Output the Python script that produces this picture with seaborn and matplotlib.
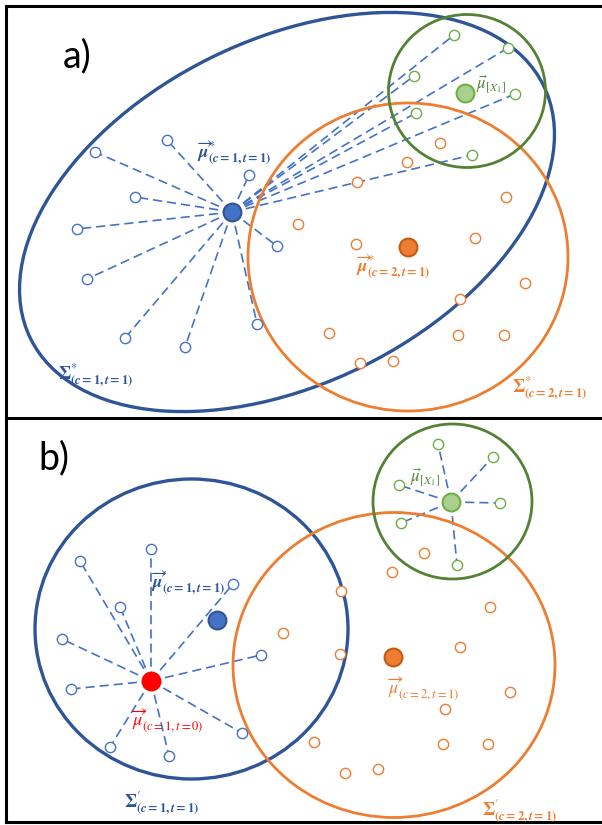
import numpy as np
import pandas as pd
import matplotlib
matplotlib.use("Agg")
import matplotlib.pyplot as plt
from matplotlib.patches import Ellipse
import seaborn as sns

sns.set_theme(style="white")
plt.rcParams["font.family"] = ["Lato", "DejaVu Sans"]
plt.rcParams["mathtext.fontset"] = "stix"

# Colours
C_BLUE_DARK = "#2F5597"
C_BLUE = "#4472C4"
C_ORANGE = "#ED7D31"
C_ORANGE_DARK = "#C55A11"
C_GREEN_DARK = "#548235"
C_GREEN = "#70AD47"
C_GREEN_FILL = "#A9D18E"
C_RED = "#FF0000"

# ---------- panel a) ----------
a_blue_x = [167, 95, 135, 249, 77, 277, 87, 257, 125, 185]
a_blue_y = [140, 152, 197, 175, 229, 246, 279, 324, 338, 347]
a_green_x = [454, 508, 414, 515, 416, 472]
a_green_y = [35, 48, 76, 94, 113, 155]
a_orange_x = [440, 407, 357, 506, 298, 356, 475, 525, 460, 329, 458, 504, 360, 393]
a_orange_y = [143, 162, 182, 197, 224, 244, 238, 283, 299, 333, 335, 335, 363, 361]
a_mu_blue = (232, 212)
a_mu_orange = (408, 247)
a_mu_green = (465, 93)

# ---------- panel b) ----------
b_blue_x = [151, 80, 120, 233, 62, 261, 71, 242, 110, 169]
b_blue_y = [549, 561, 607, 584, 639, 655, 689, 733, 747, 756]
b_green_x = [438, 493, 399, 500, 401, 457]
b_green_y = [444, 457, 485, 503, 523, 565]
b_orange_x = [424, 392, 341, 490, 283, 460, 340, 510, 445, 314, 443, 488, 345, 378]
b_orange_y = [553, 572, 591, 607, 633, 647, 654, 692, 709, 742, 744, 744, 773, 769]
b_mu_red = (151, 681)
b_mu_blue = (217, 620)
b_mu_orange = (393, 657)
b_mu_green = (451, 502)

fig = plt.figure(figsize=(6.02, 8.25), dpi=100)
ax = fig.add_axes([0, 0, 1, 1])
ax.set_xlim(0, 602)
ax.set_ylim(825, 0)
ax.axis("off")

# panel frames (open on the right-hand side)
frame_kw = dict(color="black", lw=2.2, solid_capstyle="projecting", zorder=1)
ax.plot([6, 602], [6, 6], **frame_kw)
ax.plot([6, 602], [418, 418], **frame_kw)
ax.plot([6, 602], [822, 822], **frame_kw)
ax.plot([6, 6], [6, 822], **frame_kw)


def spokes(center, xs, ys):
    for x, y in zip(xs, ys):
        ax.plot([center[0], x], [center[1], y], ls=(0, (5.5, 3)), lw=1.2,
                color=C_BLUE, zorder=2)


def hollow(xs, ys, color):
    df = pd.DataFrame({"x": xs, "y": ys})
    sns.scatterplot(data=df, x="x", y="y", ax=ax, s=55, facecolor="white",
                    edgecolor=color, linewidth=1.0, zorder=4, legend=False)


def filled(pt, face, edge):
    df = pd.DataFrame({"x": [pt[0]], "y": [pt[1]]})
    sns.scatterplot(data=df, x="x", y="y", ax=ax, s=165, color=face,
                    edgecolor=edge, linewidth=1.5, zorder=5, legend=False)


SUB1 = r"\mathbf{(}\boldsymbol{c}\mathbf{=1,}\boldsymbol{t}\mathbf{=1)}"
SUB2 = r"\mathbf{(}\boldsymbol{c}\mathbf{=2,}\boldsymbol{t}\mathbf{=1)}"

# ---- a) ----
ax.add_patch(Ellipse((287, 212), 2 * 286, 2 * 172, angle=-26.3, fill=False,
                     ec=C_BLUE_DARK, lw=2.4, zorder=3))
ax.add_patch(Ellipse((408, 257), 320, 308, fill=False, ec=C_ORANGE, lw=2.0, zorder=3))
ax.add_patch(Ellipse((467, 91), 157, 153, fill=False, ec=C_GREEN_DARK, lw=2.0, zorder=3))

spokes(a_mu_blue, a_blue_x, a_blue_y)
spokes(a_mu_blue, a_green_x, a_green_y)
hollow(a_blue_x, a_blue_y, C_BLUE)
hollow(a_green_x, a_green_y, C_GREEN)
hollow(a_orange_x, a_orange_y, C_ORANGE)
filled(a_mu_blue, C_BLUE, C_BLUE_DARK)
filled(a_mu_orange, C_ORANGE, C_ORANGE_DARK)
filled(a_mu_green, C_GREEN_FILL, C_GREEN)

ax.text(63, 56, "a)", fontsize=27, va="center", ha="left", color="black")
ax.text(197, 152, r"$\overrightarrow{\boldsymbol{\mu}}^{*}_{" + SUB1 + "}$",
        fontsize=13, color=C_BLUE_DARK, va="center", ha="left", zorder=6)
ax.text(356, 266, r"$\overrightarrow{\boldsymbol{\mu}}^{*}_{" + SUB2 + "}$",
        fontsize=13, color=C_ORANGE, va="center", ha="left", zorder=6)
ax.text(476, 84, r"$\vec{\mu}_{[X_1]}$", fontsize=12, color=C_GREEN_DARK,
        va="center", ha="left", zorder=6)
ax.text(58, 375, r"$\mathbf{\Sigma}^{*}_{" + SUB1 + "}$",
        fontsize=13, color=C_BLUE_DARK, va="center", ha="left", zorder=6)
ax.text(512, 388, r"$\mathbf{\Sigma}^{*}_{" + SUB2 + "}$",
        fontsize=13, color=C_ORANGE, va="center", ha="left", zorder=6)

# ---- b) ----
ax.add_patch(Ellipse((191.5, 629), 313, 300, fill=False, ec=C_BLUE_DARK, lw=2.4, zorder=3))
ax.add_patch(Ellipse((394, 665), 322, 305, fill=False, ec=C_ORANGE, lw=2.0, zorder=3))
ax.add_patch(Ellipse((452.5, 501.5), 159, 155, fill=False, ec=C_GREEN_DARK, lw=2.0, zorder=3))

spokes(b_mu_red, b_blue_x, b_blue_y)
spokes(b_mu_green, b_green_x, b_green_y)
hollow(b_blue_x, b_blue_y, C_BLUE)
hollow(b_green_x, b_green_y, C_GREEN)
hollow(b_orange_x, b_orange_y, C_ORANGE)
filled(b_mu_red, C_RED, C_RED)
filled(b_mu_blue, C_BLUE, C_BLUE_DARK)
filled(b_mu_orange, C_ORANGE, C_ORANGE_DARK)
filled(b_mu_green, C_GREEN_FILL, C_GREEN)

ax.text(38, 458, "b)", fontsize=27, va="center", ha="left", color="black")
ax.text(151, 582, r"$\overrightarrow{\boldsymbol{\mu}}^{\prime}_{" + SUB1 + "}$",
        fontsize=13, color=C_BLUE_DARK, va="center", ha="left", zorder=6)
ax.text(131, 720, r"$\overrightarrow{\mu}^{\prime}_{(c=1,t=0)}$",
        fontsize=13, color=C_RED, va="center", ha="left", zorder=6)
ax.text(387, 688, r"$\overrightarrow{\mu}^{\prime}_{(c=2,t=1)}$",
        fontsize=13, color=C_ORANGE, va="center", ha="left", zorder=6)
ax.text(410, 477, r"$\vec{\mu}_{[X_1]}$", fontsize=12, color=C_GREEN_DARK,
        va="center", ha="left", zorder=6)
ax.text(124, 803, r"$\mathbf{\Sigma}^{\prime}_{" + SUB1 + "}$",
        fontsize=13, color=C_BLUE_DARK, va="center", ha="left", zorder=6)
ax.text(482, 811, r"$\mathbf{\Sigma}^{\prime}_{" + SUB2 + "}$",
        fontsize=13, color=C_ORANGE, va="center", ha="left", zorder=6)

fig.savefig("out.png", dpi=100, facecolor="white")
